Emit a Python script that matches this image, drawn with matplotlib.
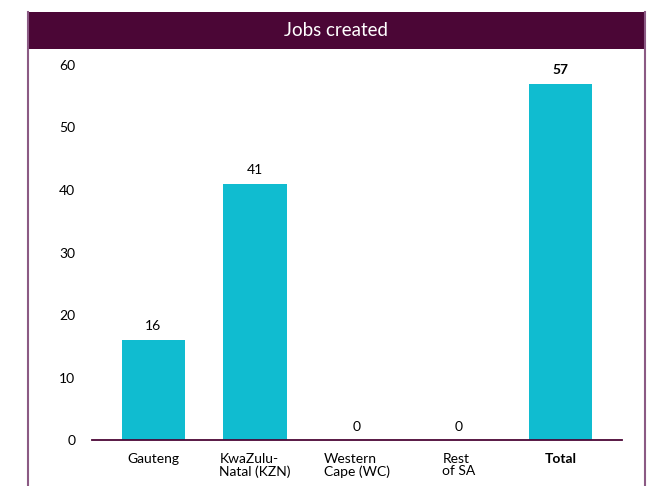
import matplotlib.pyplot as plt
from matplotlib.patches import Rectangle
from matplotlib.lines import Line2D

plt.rcParams['font.family'] = ['Lato', 'DejaVu Sans']

regions = ["Gauteng", "KwaZulu-\nNatal (KZN)", "Western\nCape (WC)", "Rest\nof SA", "Total"]
jobs = [16, 41, 0, 0, 57]
y_ticks = [0, 10, 20, 30, 40, 50, 60]
title = "Jobs created"

bar_color = "#10bcd0"
dark = "#4b0636"
frame = "#8b5a84"

W, H = 659, 486
fig = plt.figure(figsize=(W / 100, H / 100), dpi=100)

# header band + side borders
fig.patches.append(Rectangle((28 / W, 1 - 49 / H), 617 / W, 37 / H,
                             transform=fig.transFigure, facecolor=dark, edgecolor="none"))
for x in (28, 645):
    fig.lines.append(Line2D([x / W, x / W], [0, 1 - 12 / H], transform=fig.transFigure,
                            color=frame, lw=1.5))
fig.text(336 / W, 1 - 30 / H, title, color="white", fontsize=13.5, ha="center", va="center")

ax = fig.add_axes([92 / W, (H - 440) / H, (622 - 92) / W, (440 - 65) / H])
x = range(len(regions))
ax.bar(x, jobs, width=0.62, color=bar_color)
ax.set_xlim(-0.6, 4.6)
ax.set_ylim(0, 60)
ax.set_yticks(y_ticks)
ax.set_xticks(list(x))
ax.set_xticklabels(regions, fontsize=10, linespacing=1.05)
ax.get_xticklabels()[-1].set_fontweight("bold")
ax.tick_params(axis="y", labelsize=10, length=0, pad=12)
ax.tick_params(axis="x", length=0, pad=9)
for lbl in ax.get_xticklabels():
    lbl.set_verticalalignment("top")
    lbl.set_multialignment("left")
for s in ("top", "right", "left"):
    ax.spines[s].set_visible(False)
ax.spines["bottom"].set_color(dark)
ax.spines["bottom"].set_linewidth(1.3)

for i, v in enumerate(jobs):
    ax.text(i, v + 1.2, str(v), ha="center", va="bottom", fontsize=10,
            fontweight="bold" if i == len(jobs) - 1 else "normal")

fig.savefig("out.png", dpi=100)
